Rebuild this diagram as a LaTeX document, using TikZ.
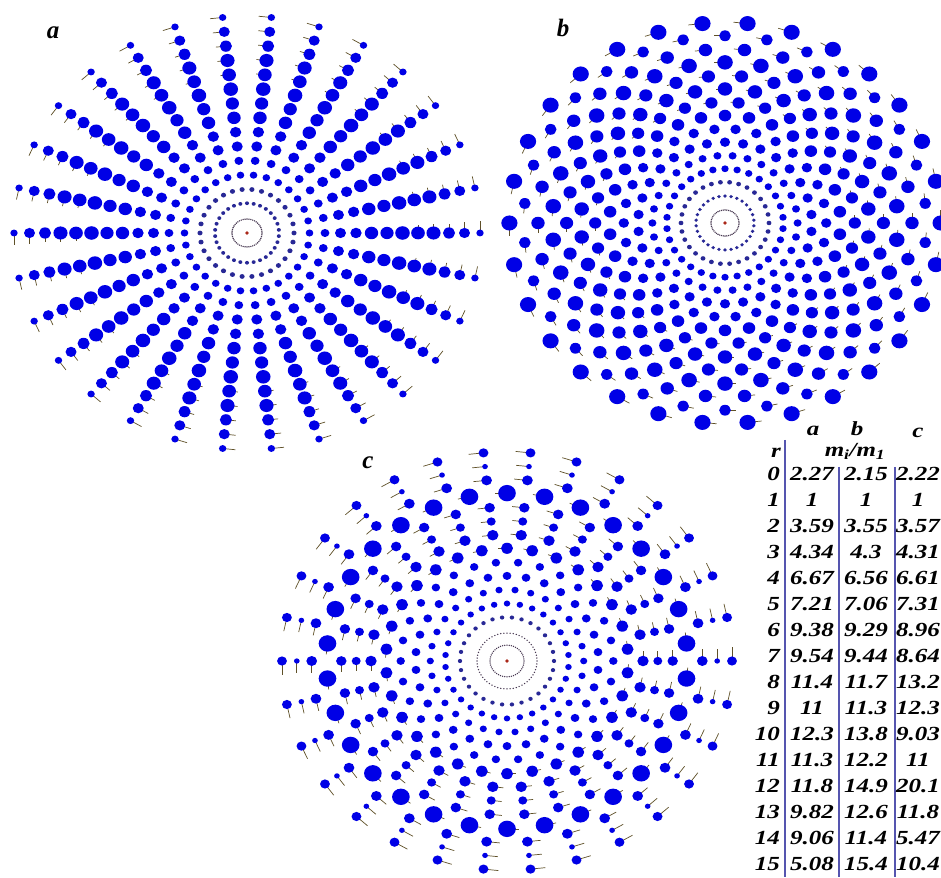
\documentclass[tikz,border=0pt]{standalone}
\usepackage{fontspec}
\setmainfont{Liberation Serif}
\newfontfamily\tabfont[FakeStretch=1.25]{Liberation Serif}
\definecolor{beadblue}{RGB}{0,0,230}
\definecolor{beadnavy}{RGB}{40,40,150}
\definecolor{beadcore}{RGB}{70,55,80}
\definecolor{hubred}{RGB}{170,40,25}
\definecolor{tailbrown}{RGB}{95,80,40}
\definecolor{rulecol}{RGB}{85,85,175}

% ring data: radius / diameter / angle offset / count / tail / colour
\def\ringsa{15/1.5/0/48/0/beadcore, 32/3.6/6/30/0/beadnavy, 47/4.6/0/30/0/beadnavy,
 62.5/6.8/0/30/0/beadblue, 78/7.8/0/30/0/beadblue, 93.5/9.8/0/30/0/beadblue,
 109/10.1/0/30/0/beadblue, 124.5/12.0/0/30/0/beadblue, 140/11.8/0/30/0/beadblue,
 155.5/13.0/0/30/0/beadblue, 171/12.2/0/30/2/beadblue, 186.5/12.6/0/30/3/beadblue,
 202/10.8/0/30/4/beadblue, 217.5/9.8/0/30/6/beadblue, 233/6.6/0/30/9/beadblue}
\def\ringsb{14/1.5/0/48/0/beadcore, 29/3.5/6/30/0/beadnavy, 44/4.5/0/30/0/beadnavy,
 58.3/6.8/6/30/0/beadblue, 72.6/7.4/0/30/0/beadblue, 86.9/9.4/6/30/0/beadblue,
 101.2/9.6/0/30/0/beadblue, 115.5/11.6/6/30/0/beadblue, 129.8/11.3/0/30/2/beadblue,
 144.1/13.4/6/30/2/beadblue, 158.4/12.2/0/30/3/beadblue, 172.7/14.4/6/30/3/beadblue,
 187/12.4/0/30/4/beadblue, 201.3/10.8/6/30/5/beadblue, 215.6/15.0/0/30/6/beadblue}
\def\ringsc{17/1.5/0/48/0/beadcore, 30/1.5/0/60/0/beadcore, 47/4.2/0/30/0/beadnavy,
 61.8/6.2/6/30/0/beadblue, 76.7/6.8/0/30/0/beadblue, 91.5/8.3/6/30/0/beadblue,
 106.3/8.0/0/30/0/beadblue, 121.2/11.4/6/30/3/beadblue, 136/10.8/0/30/5/beadblue,
 150.8/8.5/0/30/6/beadblue, 165.7/9.9/0/30/7/beadblue, 180.5/16.8/6/30/3/beadblue,
 195.3/10.2/0/30/8/beadblue, 210.2/5.4/0/30/10/beadblue, 225/9.4/0/30/10/beadblue}

% centre x, centre y (from top), rings, size factor
\newcommand\drawdisc[4]{%
 \begin{scope}[shift={(#1,877-#2)},yscale=0.93]
  \foreach \R/\d/\o/\n/\t/\c in #3 {
   \ifdim\t pt>0pt
    \foreach \k in {1,...,\n}
     \draw[tailline] ({\o+\k*(360/\n)}:\R) -- ++({\o+\k*(360/\n)+90}:{\d*#4/2+\t});
   \fi}
  \foreach \R/\d/\o/\n/\t/\c in #3
   \foreach \k in {1,...,\n}
    \fill[fill=\c] ({\o+\k*(360/\n)}:\R) circle ({\d*#4/2});
  \fill[hubred] (0,0) circle (1.9);
 \end{scope}}

\begin{document}
\begin{tikzpicture}[x=1pt,y=1pt,
 tailline/.style={draw=tailbrown,line width=0.7pt},
 num/.style={inner sep=0pt,font=\tabfont\bfseries\itshape\fontsize{20}{20}\selectfont},
 lbl/.style={inner sep=0pt,font=\bfseries\itshape\fontsize{25}{25}\selectfont},
 colrule/.style={draw=rulecol,line width=1.5pt}]
\useasboundingbox (0,0) rectangle (941,877);
\fill[white] (0,0) rectangle (941,877);
\drawdisc{247}{233}{\ringsa}{1.12}
\drawdisc{725}{223}{\ringsb}{1.08}
\drawdisc{507}{661}{\ringsc}{1.05}
\node[lbl] (lab-a) at (53,877-33) {a};
\node[lbl] (lab-b) at (563,877-28) {b};
\node[lbl] (lab-c) at (368,877-463) {c};
% table of m_i/m_1
\node[num] (hr) at (776,877-453) {r};
\node[num] (ha) at (813,877-431) {a};
\node[num] (hb) at (857,877-429) {b};
\node[num] (hc) at (918,877-433) {c};
\node[num] (hm) at (855,877-451) {m\textsubscript{i}/m\textsubscript{1}};
\coordinate (ta) at (785,877-440); \coordinate (ba) at (785,0);
\coordinate (tb) at (839,877-467); \coordinate (bb) at (839,0);
\coordinate (tc) at (895,877-467); \coordinate (bc) at (895,0);
\draw[colrule] (ta)--(ba); \draw[colrule] (tb)--(bb); \draw[colrule] (tc)--(bc);
\foreach \va/\vb/\vc [count=\r from 0] in {2.27/2.15/2.22,1/1/1,3.59/3.55/3.57,
 4.34/4.3/4.31,6.67/6.56/6.61,7.21/7.06/7.31,9.38/9.29/8.96,9.54/9.44/8.64,
 11.4/11.7/13.2,11/11.3/12.3,12.3/13.8/9.03,11.3/12.2/11,11.8/14.9/20.1,
 9.82/12.6/11.8,9.06/11.4/5.47,5.08/15.4/10.4} {
 \node[num,anchor=east] (r\r) at (780,{877-474-26*\r}) {\r};
 \node[num] (a\r) at (812,{877-474-26*\r}) {\va};
 \node[num] (b\r) at (866,{877-474-26*\r}) {\vb};
 \node[num] (c\r) at (918,{877-474-26*\r}) {\vc};
}
\end{tikzpicture}
\end{document}
